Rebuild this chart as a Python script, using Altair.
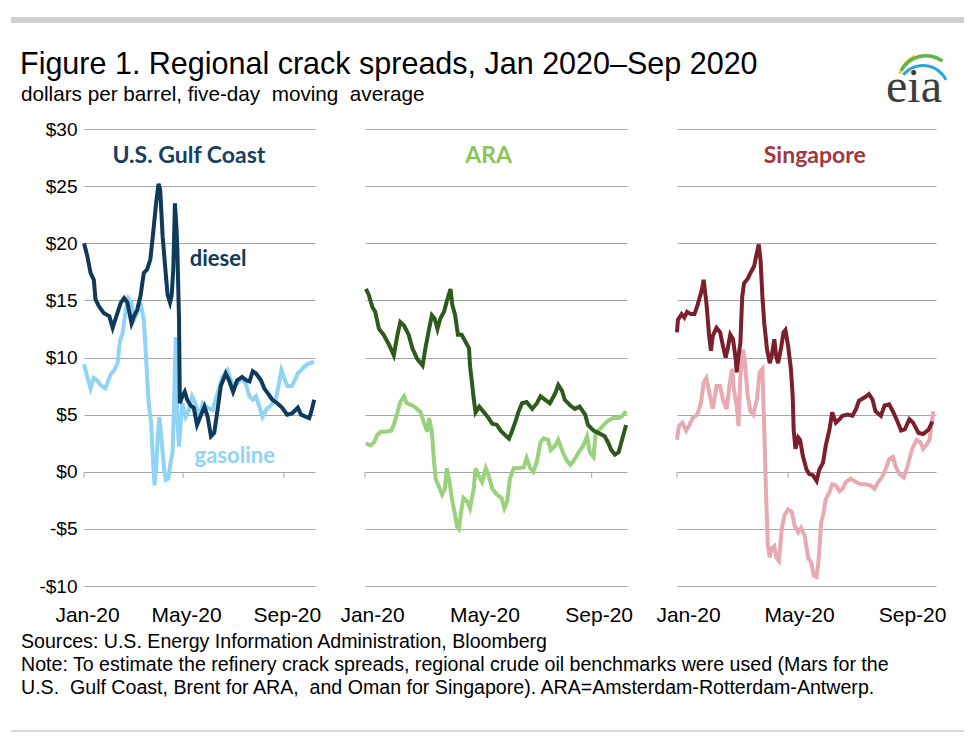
import altair as alt
import pandas as pd

# ---------------- data (day offset from 2020-01-01, $/bbl) ----------------
gulf_diesel_day = [0,4,8,12,14,18,24,31,35,39,45,49,53,58,61,65,69,73,77,81,84,88,91,93,96,99,102,105,107,109,
                   111,113,114,116,117,120,123,126,130,134,138,143,147,151,155,159,163,167,173,177,182,187,193,198,202,206,210,216,220,224,
                   230,236,242,248,254,261,265,271,275,278,281]
gulf_diesel_val = [20.0,18.9,17.4,16.8,15.1,14.5,13.9,13.6,12.6,13.5,14.8,15.2,14.8,13.0,13.6,14.2,15.4,17.4,17.7,18.6,
                   20.6,23.5,25.2,24.7,20.6,18.0,15.5,14.8,15.4,17.7,23.5,21.2,19.4,13.3,6.0,6.6,7.0,6.3,5.8,5.6,
                   4.1,5.0,5.7,4.8,3.1,3.4,5.4,7.5,8.6,8.0,7.0,8.0,8.3,8.0,7.9,8.8,8.6,8.0,7.3,6.9,
                   6.3,6.0,5.6,5.0,5.1,5.6,5.0,4.8,4.7,5.4,6.3]
gulf_gas_day = [0,4,8,12,16,20,26,33,37,41,44,47,51,54,58,61,65,69,73,75,77,79,82,84,86,88,90,92,95,98,
                100,103,106,108,110,112,114,116,118,120,124,128,132,136,141,145,151,157,163,169,175,181,187,193,198,202,206,210,214,218,
                222,228,234,238,241,244,248,254,261,265,269,275,281]
gulf_gas_val = [9.4,8.3,7.3,8.2,8.0,7.6,7.3,8.6,8.9,9.5,11.5,12.1,14.2,15.2,14.8,13.3,13.9,14.8,13.3,11.0,
                8.3,6.0,4.2,1.3,-1.2,0.1,3.1,4.8,2.5,0.1,-0.7,-0.6,1.0,1.6,6.0,11.8,4.5,2.2,4.2,6.0,
                4.8,5.4,6.6,6.0,4.8,6.0,5.6,5.4,6.9,8.3,8.9,7.7,7.7,8.2,7.6,6.6,6.3,6.6,5.7,4.8,
                5.4,5.8,6.3,7.7,8.9,8.3,7.5,7.5,8.6,8.9,9.2,9.5,9.6]

ara_diesel_day = [1,4,8,11,15,20,26,31,35,38,42,47,51,56,62,65,69,72,75,78,81,85,88,92,94,97,100,104,108,112,
                  113,115,117,119,123,128,133,137,142,146,151,155,158,162,165,169,174,180,185,189,
                  194,199,205,208,212,215,221,226,231,237,240,246,251,258,262,265,269,273,276,281]
ara_diesel_val = [16.0,15.5,14.4,14.0,12.5,12.0,11.1,10.2,12.0,13.1,12.8,12.0,10.8,9.9,9.3,10.8,12.5,13.7,13.4,12.5,
                  13.4,14.0,14.9,16.0,14.6,13.7,12.0,12.0,11.4,10.8,9.3,7.9,6.4,5.2,5.7,5.2,4.7,4.2,4.1,3.6,
                  3.2,2.9,3.5,4.4,5.2,6.0,6.1,5.5,6.0,6.6,6.3,6.0,6.9,7.6,7.1,6.3,5.8,5.5,5.7,5.0,
                  4.1,3.6,3.4,3.1,2.5,1.9,1.5,1.7,2.6,4.1]
ara_gas_day = [1,6,10,13,17,22,28,31,35,38,42,45,51,56,60,63,67,69,72,74,76,79,83,86,88,91,94,97,99,101,
               104,106,110,113,117,119,122,126,130,133,137,142,147,150,153,156,160,165,171,174,
               178,181,185,189,192,197,200,205,208,213,217,221,225,230,235,239,242,246,248,251,
               257,262,267,273,276,281]
ara_gas_val = [2.5,2.3,2.6,3.2,3.5,3.5,3.6,4.1,5.2,6.1,6.6,6.0,5.8,5.5,5.2,4.4,3.5,4.7,3.5,1.2,
               -0.6,-1.2,-2.0,-1.5,0.3,-0.9,-2.6,-3.8,-4.8,-5.0,-3.2,-2.3,-2.6,-3.2,-1.5,0.3,-0.3,-0.9,0.3,-0.3,
               -1.5,-2.0,-2.3,-3.2,-2.6,-0.6,0.3,0.3,0.4,1.2,0.3,0.0,0.9,2.6,2.9,2.8,1.9,2.3,2.8,1.7,
               1.0,0.6,1.0,1.7,2.3,3.1,1.7,1.3,3.2,3.6,4.1,4.5,4.7,4.7,4.8,5.3]

sgp_diesel_day = [0,1,5,8,11,15,19,22,27,29,32,35,37,39,43,47,50,53,55,58,61,64,65,67,69,71,73,77,80,84,
                  86,89,91,93,95,98,101,103,106,108,110,113,116,118,121,124,126,127,129,132,
                  134,137,141,144,148,152,155,159,162,166,169,173,177,180,186,191,195,198,204,209,
                  213,216,222,226,231,235,240,244,248,253,257,263,268,274,278]
sgp_diesel_val = [12.2,13.3,13.8,13.5,14.0,13.8,13.8,14.5,15.9,16.8,14.8,11.9,10.6,11.9,12.6,12.2,11.0,10.0,10.7,12.0,
                  11.6,9.8,8.7,10.1,11.3,15.3,16.5,16.9,17.4,18.0,18.8,19.9,18.5,15.3,13.0,10.7,9.5,10.1,11.6,10.1,
                  9.5,10.7,12.2,12.4,11.0,9.0,6.6,3.7,2.0,3.0,2.8,1.4,0.2,-0.2,-0.3,-0.8,0.2,0.8,2.3,3.7,
                  5.2,4.3,4.6,4.9,5.0,4.9,5.5,6.2,6.5,6.8,6.3,5.3,4.9,5.8,5.9,5.3,4.4,3.6,3.7,4.6,
                  4.3,3.4,3.3,3.7,4.4]
sgp_gas_day = [0,2,6,10,13,17,22,26,29,32,36,39,43,47,50,54,57,60,62,65,67,69,72,74,77,80,83,87,90,93,
               95,97,99,101,103,106,108,111,114,117,121,125,128,132,135,139,143,146,149,152,
               154,157,159,162,166,169,173,177,180,184,189,195,200,205,211,215,219,223,227,231,
               235,238,242,247,250,253,256,261,265,268,272,275,279]
sgp_gas_val = [2.8,4.0,4.3,3.6,4.0,4.7,5.0,6.0,7.8,8.2,6.6,5.5,7.5,7.5,6.3,5.5,7.5,9.0,7.2,5.8,
               4.0,8.4,10.7,9.5,6.6,5.3,5.0,6.3,8.7,9.0,3.7,-2.1,-6.5,-7.5,-6.7,-6.5,-7.5,-7.8,-5.0,-3.8,
               -3.3,-3.5,-4.7,-5.3,-4.9,-5.6,-7.6,-7.9,-9.1,-9.2,-7.9,-4.4,-3.8,-2.4,-1.8,-1.1,-1.2,-1.7,-1.5,-0.9,
               -0.6,-0.9,-1.1,-1.1,-1.2,-1.5,-0.9,-0.5,0.2,1.1,1.3,0.5,-0.2,-0.5,0.2,1.1,2.0,2.8,2.6,2.0,
               2.4,2.8,5.3]

tick_labels_months = [1, 5, 9]
y_ticks = [-10, -5, 0, 5, 10, 15, 20, 25, 30]

title_text = "Figure 1. Regional crack spreads, Jan 2020\u2013Sep 2020"
subtitle_text = "dollars per barrel, five-day\u00a0 moving\u00a0 average"
footnote_text = ("Sources: U.S. Energy Information Administration, Bloomberg\n"
                 "Note: To estimate the refinery crack spreads, regional crude oil benchmarks were used (Mars for the\n"
                 "U.S.\u00a0 Gulf Coast, Brent for ARA,\u00a0 and Oman for Singapore). ARA=Amsterdam-Rotterdam-Antwerp.")

BASE = pd.Timestamp("2020-01-01")


def frame(days, vals):
    return pd.DataFrame({"date": BASE + pd.to_timedelta(days, unit="D"), "value": vals})


def dt(m, d):
    return alt.DateTime(year=2020, month=m, date=d)


XSCALE = alt.Scale(domain=[dt(1, 1), dt(10, 9)])
YSCALE = alt.Scale(domain=[-10, 30], nice=False, zero=False)
GRID = "#a6a6a6"
SANS = "Liberation Sans"
BOLD = "Lato"
NAVY = "#0e3a5c"
LBLUE = "#8fd3f6"


def panel(width, diesel, gas, c_d, c_g, region, region_color, region_day, tick_months,
          label_offset, show_y, line_labels=None, extra=None):
    xaxis = alt.Axis(values=[dt(m, 1) for m in tick_labels_months], format="%b-%y", ticks=False,
                     domain=False, grid=False, labelFontSize=21, labelPadding=18,
                     labelOffset=label_offset, title=None, labelFlush=False, labelOverlap=False,
                     labelFont=SANS, labelColor="#000000")
    yaxis = alt.Axis(values=y_ticks, grid=True, gridColor=GRID, gridWidth=1, ticks=False, domain=False,
                     labels=show_y, title=None, labelPadding=7, labelFontSize=19, labelFont=SANS,
                     labelColor="#000000",
                     labelExpr="datum.value < 0 ? '-$' + (-datum.value) : '$' + datum.value")
    X = alt.X("date:T", scale=XSCALE, axis=xaxis)
    Y = alt.Y("value:Q", scale=YSCALE, axis=yaxis)
    g = alt.Chart(gas).mark_line(color=c_g, strokeWidth=4).encode(x=X, y=Y)
    d = alt.Chart(diesel).mark_line(color=c_d, strokeWidth=4).encode(x=X, y=Y)
    ticks = alt.Chart(pd.DataFrame({"date": [BASE.replace(month=m) for m in tick_months],
                                    "value": [0] * len(tick_months)})).mark_rule(
        color=GRID, strokeWidth=1, y2Offset=6).encode(x=X, y=Y, y2=alt.Y2("value:Q"))
    ttl = alt.Chart(pd.DataFrame({"date": [BASE + pd.Timedelta(days=region_day)], "value": [27.6],
                                  "t": [region]})).mark_text(
        font=BOLD, fontWeight="bold", fontSize=23, color=region_color, align="center",
        baseline="middle").encode(x=X, y=Y, text="t:N")
    layers = [g, d, ticks, ttl]
    if line_labels is not None:
        layers.append(alt.Chart(line_labels).mark_text(
            font=BOLD, fontWeight="bold", fontSize=22, align="left", baseline="middle").encode(
            x=X, y=Y, text="t:N", color=alt.Color("c:N", scale=None)))
    layers += (extra or [])
    return alt.layer(*layers).properties(width=width, height=457)


line_label_df = pd.DataFrame({
    "date": [BASE + pd.Timedelta(days=129), BASE + pd.Timedelta(days=135)],
    "value": [18.6, 1.4], "t": ["diesel", "gasoline"], "c": [NAVY, LBLUE]})

one = pd.DataFrame({"a": [0]})
top_bar = alt.Chart(one).mark_rule(color="#d0d0d0", strokeWidth=6).encode(
    x=alt.value(-73), x2=alt.value(880), y=alt.value(-109))
bottom_bar = alt.Chart(one).mark_rule(color="#d9d9d9", strokeWidth=2).encode(
    x=alt.value(-73), x2=alt.value(880), y=alt.value(602))
title = alt.Chart(pd.DataFrame({"t": [title_text]})).mark_text(
    font=SANS, fontSize=30.5, align="left", baseline="alphabetic", color="#000000").encode(
    x=alt.value(-64), y=alt.value(-55), text="t:N")
subtitle = alt.Chart(pd.DataFrame({"t": [subtitle_text]})).mark_text(
    font=SANS, fontSize=20.7, align="left", baseline="alphabetic", color="#000000").encode(
    x=alt.value(-63), y=alt.value(-28), text="t:N")
foot = alt.Chart(pd.DataFrame({"t": [footnote_text]})).mark_text(
    font=SANS, fontSize=19.6, align="left", baseline="alphabetic", color="#000000",
    lineBreak="\n", lineHeight=23).encode(
    x=alt.value(-63), y=alt.value(519), text="t:N")
logo = alt.Chart(pd.DataFrame({"t": ["eia"]})).mark_text(
    font="Liberation Serif", fontSize=48, align="center", baseline="alphabetic",
    color="#3c3c3c").encode(x=alt.value(830), y=alt.value(-27), text="t:N")
arc_blue = alt.Chart(one).mark_arc(color="#29a6e0", radius=27, radius2=24, theta=5.4, theta2=7.4).encode(
    x=alt.value(839), y=alt.value(-38))
arc_green = alt.Chart(one).mark_arc(color="#5db548", radius=30, radius2=26.5, theta=5.2, theta2=6.9).encode(
    x=alt.value(842), y=alt.value(-45))
arc_yellow = alt.Chart(one).mark_arc(color="#f1cf2c", radius=30, radius2=27, theta=5.0, theta2=5.85).encode(
    x=alt.value(843), y=alt.value(-47))

p1 = panel(231, frame(gulf_diesel_day, gulf_diesel_val), frame(gulf_gas_day, gulf_gas_val),
           NAVY, LBLUE, "U.S. Gulf Coast", "#15405f", 128, [1, 5, 9], 3, True,
           line_labels=line_label_df,
           extra=[top_bar, bottom_bar, title, subtitle, foot, logo, arc_yellow, arc_green, arc_blue])
p2 = panel(262, frame(ara_diesel_day, ara_diesel_val), frame(ara_gas_day, ara_gas_val),
           "#2e5a1b", "#9ad17b", "ARA", "#8cc45a", 133, [1, 9], 7, False)
p3 = panel(259, frame(sgp_diesel_day, sgp_diesel_val), frame(sgp_gas_day, sgp_gas_val),
           "#7b1f2c", "#e9a9b0", "Singapore", "#a3363f", 150, [1, 5], 11, False)

chart = alt.hconcat(p1, p2, p3, spacing=50, bounds="flush").properties(
    padding={"left": 0, "top": 9, "right": 4, "bottom": 4},
    background="#ffffff"
).configure_view(stroke=None)

chart.save("out.html", embed_options={"renderer": "svg", "actions": False})
